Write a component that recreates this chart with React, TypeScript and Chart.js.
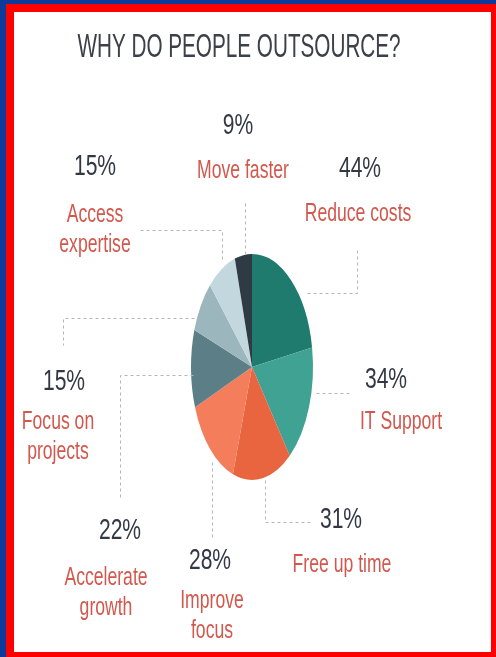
import React, { useEffect, useRef } from "react";
import { Chart, registerables } from "chart.js";

Chart.register(...registerables);

const TITLE = "WHY DO PEOPLE OUTSOURCE?";
const categories = [
  "Reduce costs",
  "IT Support",
  "Free up time",
  "Improve focus",
  "Accelerate growth",
  "Focus on projects",
  "Access expertise",
  "Move faster",
];
const values = [44, 34, 31, 28, 22, 15, 15, 9];
const labelLines = [
  ["Reduce costs"],
  ["IT Support"],
  ["Free up time"],
  ["Improve", "focus"],
  ["Accelerate", "growth"],
  ["Focus on", "projects"],
  ["Access", "expertise"],
  ["Move faster"],
];
const sliceColors = [
  "#1f7b6d",
  "#3fa293",
  "#e8653f",
  "#f47d5c",
  "#5b7e87",
  "#9bb6bd",
  "#c2d8de",
  "#2e3b45",
];

// layout (page pixels): number centre, label first-line centre, leader path
const layout = [
  { num: [360, 166], lab: [358, 212], path: [[307, 293], [357, 293], [357, 247]] },
  { num: [386, 377], lab: [401, 420], path: [[316, 393], [350, 393]] },
  { num: [341, 517], lab: [342, 563], path: [[265, 480], [265, 522], [312, 522]] },
  { num: [210, 558], lab: [212, 599], path: [[212, 462], [212, 540]] },
  { num: [120, 528], lab: [106, 576], path: [[193, 375], [120, 375], [120, 497]] },
  { num: [64, 379], lab: [58, 420], path: [[200, 318], [63, 318], [63, 345]] },
  { num: [95, 164], lab: [95, 213], path: [[140, 230], [222, 230], [222, 262]] },
  { num: [238, 123], lab: [243, 169], path: [[245, 203], [245, 257]] },
];
const LINE_GAP = 30;
const STRETCH = 113 / 61;
const FONT = '"Liberation Sans", Arial, sans-serif';

function drawText(
  ctx: CanvasRenderingContext2D,
  s: string,
  x: number,
  capY: number,
  size: number,
  color: string,
  sx: number,
  sy: number
) {
  ctx.save();
  ctx.translate(x, capY);
  ctx.scale(sx, sy);
  ctx.font = `${size}px ${FONT}`;
  ctx.fillStyle = color;
  ctx.textAlign = "center";
  ctx.textBaseline = "alphabetic";
  ctx.fillText(s, 0, 0.358 * size);
  ctx.restore();
}

const stretchPlugin = {
  id: "stretch",
  beforeDatasetsDraw(chart: any) {
    const arc = chart.getDatasetMeta(0).data[0];
    const ctx = chart.ctx;
    ctx.save();
    ctx.translate(arc.x, arc.y);
    ctx.scale(1, STRETCH);
    ctx.translate(-arc.x, -arc.y);
  },
  afterDatasetsDraw(chart: any) {
    chart.ctx.restore();
  },
};

const annotatePlugin = {
  id: "annotate",
  afterDraw(chart: any) {
    const ctx: CanvasRenderingContext2D = chart.ctx;
    drawText(ctx, TITLE, 239, 45, 30, "#3b4049", 0.69, 1.1);
    ctx.save();
    ctx.strokeStyle = "#b3b6b8";
    ctx.lineWidth = 1;
    ctx.setLineDash([3, 3]);
    layout.forEach((l) => {
      ctx.beginPath();
      l.path.forEach((p, i) => {
        if (i === 0) ctx.moveTo(p[0] + 0.5, p[1] + 0.5);
        else ctx.lineTo(p[0] + 0.5, p[1] + 0.5);
      });
      ctx.stroke();
    });
    ctx.restore();
    values.forEach((v, i) => {
      const l = layout[i];
      drawText(ctx, `${v}%`, l.num[0], l.num[1], 27, "#323945", 0.78, 1.12);
      labelLines[i].forEach((line, j) => {
        drawText(ctx, line, l.lab[0], l.lab[1] + j * LINE_GAP, 22, "#d2584d", 0.8, 1.18);
      });
    });
  },
};

export default function App() {
  const ref = useRef<HTMLCanvasElement>(null);
  useEffect(() => {
    if (!ref.current) return;
    const chart = new Chart(ref.current, {
      type: "pie",
      data: {
        labels: categories,
        datasets: [
          {
            data: values,
            backgroundColor: sliceColors,
            borderWidth: 0,
          },
        ],
      },
      options: {
        responsive: false,
        animation: false,
        events: [],
        radius: 61,
        layout: { padding: { left: 8, top: 77, right: 0, bottom: 0 } },
        plugins: {
          legend: { display: false },
          title: { display: false },
          tooltip: { enabled: false },
        },
      } as any,
      plugins: [stretchPlugin, annotatePlugin],
    });
    return () => chart.destroy();
  }, []);

  return (
    <div style={{ position: "fixed", left: 0, top: 0, width: 496, height: 657, background: "#0d3a9b" }}>
      <div style={{ position: "absolute", left: 6, top: 4, width: 490, height: 653, background: "#ff0000" }} />
      <div style={{ position: "absolute", left: 14, top: 12, width: 477, height: 640, background: "#ffffff" }} />
      <canvas
        ref={ref}
        width={496}
        height={657}
        style={{ position: "absolute", left: 0, top: 0, width: 496, height: 657 }}
      />
    </div>
  );
}
